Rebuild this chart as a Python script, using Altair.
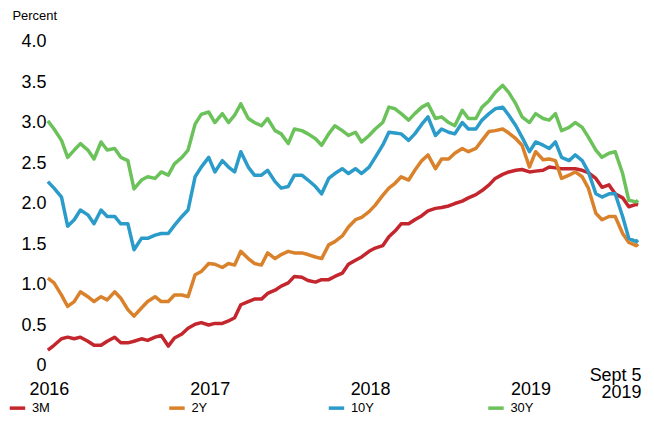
import altair as alt
import pandas as pd

# Sampling dates: 1st and 15th of each month, Jan 2016 .. Sep 1 2019, plus Sept 5 2019
dates = [f"{y}-{m:02d}-{d:02d}" for y in range(2016, 2020) for m in range(1, 13) for d in (1, 15)]
dates = [d for d in dates if d <= "2019-09-01"] + ["2019-09-05"]

series_names = ["3M", "2Y", "10Y", "30Y"]
series_colors = ["#C4262E", "#D9812B", "#2B9BC9", "#6CC25A"]

y3m = [0.19, 0.25, 0.33, 0.35, 0.33, 0.35, 0.30, 0.25, 0.25, 0.30, 0.35, 0.28,
       0.28, 0.30, 0.33, 0.31, 0.35, 0.37, 0.24, 0.34, 0.39, 0.46, 0.51, 0.53,
       0.50, 0.52, 0.52, 0.55, 0.59, 0.75, 0.79, 0.82, 0.82, 0.89, 0.93, 0.98,
       1.02, 1.10, 1.09, 1.05, 1.03, 1.06, 1.06, 1.10, 1.14, 1.25, 1.30, 1.34,
       1.41, 1.45, 1.48, 1.59, 1.66, 1.75, 1.75, 1.80, 1.85, 1.91, 1.94, 1.95,
       1.97, 2.00, 2.03, 2.07, 2.11, 2.16, 2.23, 2.31, 2.36, 2.39, 2.41, 2.42,
       2.39, 2.40, 2.41, 2.45, 2.44, 2.43, 2.43, 2.43, 2.41, 2.38, 2.31, 2.20,
       2.23, 2.12, 2.07, 1.96, 1.99, 1.98]

y2y = [1.08, 1.02, 0.87, 0.73, 0.79, 0.91, 0.85, 0.79, 0.85, 0.81, 0.91, 0.83,
       0.69, 0.61, 0.71, 0.79, 0.85, 0.79, 0.79, 0.87, 0.87, 0.85, 1.12, 1.16,
       1.26, 1.25, 1.21, 1.26, 1.24, 1.41, 1.32, 1.26, 1.24, 1.39, 1.32, 1.37,
       1.41, 1.39, 1.39, 1.37, 1.34, 1.32, 1.49, 1.53, 1.60, 1.71, 1.80, 1.83,
       1.90, 1.98, 2.10, 2.19, 2.25, 2.33, 2.29, 2.41, 2.53, 2.60, 2.43, 2.55,
       2.55, 2.62, 2.68, 2.64, 2.68, 2.78, 2.89, 2.90, 2.92, 2.87, 2.80, 2.72,
       2.45, 2.64, 2.54, 2.55, 2.53, 2.31, 2.35, 2.39, 2.33, 2.19, 1.88, 1.80,
       1.84, 1.84, 1.63, 1.52, 1.48, 1.50]

y10y = [2.27, 2.19, 2.08, 1.72, 1.80, 1.92, 1.86, 1.75, 1.92, 1.84, 1.84, 1.75,
        1.75, 1.43, 1.57, 1.57, 1.61, 1.63, 1.63, 1.73, 1.84, 1.92, 2.33, 2.45,
        2.57, 2.39, 2.53, 2.45, 2.39, 2.64, 2.45, 2.35, 2.35, 2.41, 2.27, 2.19,
        2.21, 2.35, 2.35, 2.29, 2.21, 2.12, 2.31, 2.37, 2.43, 2.37, 2.43, 2.37,
        2.45, 2.57, 2.72, 2.88, 2.87, 2.86, 2.78, 2.86, 2.98, 3.07, 2.84, 2.92,
        2.88, 2.86, 3.00, 2.92, 2.92, 3.03, 3.11, 3.17, 3.19, 3.09, 2.96, 2.82,
        2.64, 2.76, 2.72, 2.68, 2.76, 2.57, 2.53, 2.60, 2.53, 2.39, 2.12, 2.08,
        2.12, 2.12, 1.84, 1.57, 1.53, 1.55]

y30y = [3.02, 2.92, 2.78, 2.57, 2.66, 2.74, 2.66, 2.55, 2.76, 2.66, 2.68, 2.57,
        2.53, 2.18, 2.29, 2.33, 2.31, 2.39, 2.35, 2.49, 2.57, 2.66, 2.98, 3.10,
        3.13, 3.00, 3.11, 3.00, 3.09, 3.23, 3.05, 3.00, 2.96, 3.05, 2.90, 2.86,
        2.74, 2.92, 2.90, 2.86, 2.80, 2.72, 2.86, 2.96, 2.90, 2.84, 2.88, 2.76,
        2.84, 2.92, 3.00, 3.19, 3.17, 3.11, 3.03, 3.11, 3.19, 3.23, 3.05, 3.07,
        3.00, 2.96, 3.15, 3.05, 3.05, 3.19, 3.27, 3.37, 3.46, 3.37, 3.23, 3.07,
        3.00, 3.11, 3.05, 3.03, 3.11, 2.90, 2.94, 3.00, 2.94, 2.82, 2.66, 2.57,
        2.62, 2.64, 2.37, 2.04, 2.02, 2.04]

y_ticks = [0, 0.5, 1.0, 1.5, 2.0, 2.5, 3.0, 3.5, 4.0]
x_ticks = [alt.DateTime(year=2016, month=1, date=1),
           alt.DateTime(year=2017, month=1, date=1),
           alt.DateTime(year=2018, month=1, date=1),
           alt.DateTime(year=2019, month=1, date=1),
           alt.DateTime(year=2019, month=9, date=5)]

rows = []
for name, vals in zip(series_names, [y3m, y2y, y10y, y30y]):
    for d, v in zip(dates, vals):
        rows.append({"date": d + "T00:00:00", "series": name, "value": v})
df = pd.DataFrame(rows)

FONT = "Liberation Sans"
is_sept = "month(datum.value) == 8"

chart = alt.Chart(df).mark_line(strokeWidth=3.5, strokeJoin="round").encode(
    x=alt.X(
        "date:T",
        scale=alt.Scale(domain=[x_ticks[0], x_ticks[-1]], nice=False),
        axis=alt.Axis(
            values=x_ticks,
            title=None,
            domain=False, ticks=False, tickSize=0, grid=False,
            labelExpr="month(datum.value) == 8 ? ['Sept 5', '2019'] : timeFormat(datum.value, '%Y')",
            labelFont=FONT, labelFontSize=18, labelColor="#000000",
            labelFlush=False, labelOverlap=False, labelBound=False,
            labelBaseline="alphabetic",
            labelLineHeight=17,
            labelAlign={"condition": {"test": is_sept, "value": "right"}, "value": "center"},
            labelPadding={"condition": {"test": is_sept, "value": 15}, "value": 29},
            labelOffset={"condition": {"test": is_sept, "value": 3}, "value": 1},
        ),
    ),
    y=alt.Y(
        "value:Q",
        scale=alt.Scale(domain=[0, 4], nice=False, zero=True),
        axis=alt.Axis(
            values=y_ticks,
            labelExpr="datum.value == 0 ? '0' : format(datum.value, '.1f')",
            domain=False, ticks=False, tickSize=0, grid=False,
            labelFont=FONT, labelFontSize=18, labelColor="#000000",
            labelPadding=2, labelFlush=False, labelOverlap=False,
            title="Percent", titleAngle=0, titleX=-36, titleY=-26,
            titleAlign="left", titleBaseline="middle",
            titleFont=FONT, titleFontSize=13, titleFontWeight="normal",
            titleColor="#000000",
        ),
    ),
    color=alt.Color(
        "series:N",
        scale=alt.Scale(domain=series_names, range=series_colors),
        legend=alt.Legend(
            orient="none", legendX=-40, legendY=358,
            direction="horizontal", columns=4, gridAlign="all",
            columnPadding=106, padding=0,
            symbolType="stroke", symbolSize=240, symbolStrokeWidth=3.5,
            labelFont=FONT, labelFontSize=13, labelColor="#000000",
            labelOffset=5, title=None,
        ),
    ),
    detail="series:N",
).properties(
    width=592,
    height=325,
    autosize=alt.AutoSizeParams(type="none"),
    padding={"left": 40, "top": 33, "right": 8, "bottom": 49},
).configure_view(stroke=None)

chart.save("out.html", embed_options={"renderer": "svg", "actions": False})
